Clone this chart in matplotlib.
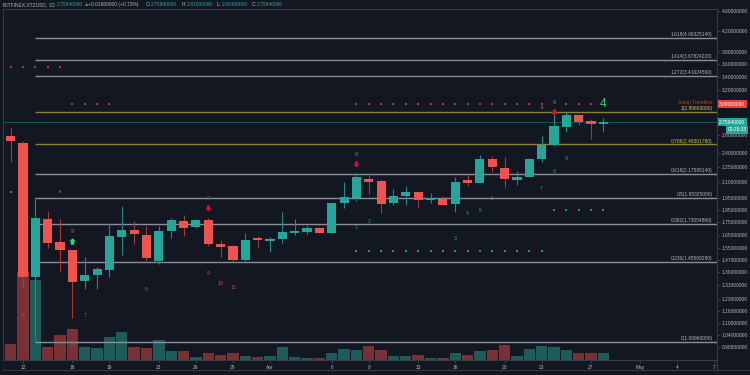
import numpy as np
import pandas as pd
import matplotlib
matplotlib.use('Agg')
import matplotlib.pyplot as plt
import matplotlib.dates as mdates
from matplotlib.path import Path
from matplotlib.lines import Line2D
from matplotlib.ticker import FormatStrFormatter, NullLocator, FixedLocator
from matplotlib.transforms import blended_transform_factory

plt.rcParams['font.family'] = ['Liberation Sans', 'DejaVu Sans']

# daily candles, Mar 11 - Apr 28 2020
dates = pd.date_range('2020-03-11', '2020-04-28', freq='D')
opens = [2.592, 2.513, 1.360, 1.771, 1.592, 1.535, 1.332, 1.370, 1.402, 1.634,
         1.685, 1.644, 1.462, 1.677, 1.753, 1.710, 1.758, 1.578, 1.560, 1.468,
         1.619, 1.604, 1.614, 1.664, 1.672, 1.695, 1.664, 1.904, 1.951, 2.131,
         2.109, 1.909, 1.969, 1.999, 1.933, 1.942, 1.898, 2.115, 2.087, 2.329,
         2.241, 2.118, 2.151, 2.329, 2.487, 2.705, 2.853, 2.776, 2.738]
highs = [2.685, 2.530, 1.953, 1.838, 1.769, 1.537, 1.486, 1.422, 1.734, 1.883,
         1.755, 1.716, 1.716, 1.782, 1.805, 1.770, 1.777, 1.609, 1.573, 1.659,
         1.639, 1.634, 1.827, 1.774, 1.721, 1.706, 1.909, 2.096, 2.184, 2.184,
         2.115, 2.033, 2.061, 2.003, 1.993, 1.971, 2.145, 2.174, 2.379, 2.368,
         2.357, 2.207, 2.340, 2.592, 2.897, 2.890, 2.860, 2.798, 2.811]
lows = [2.304, 1.299, 1.0096, 1.549, 1.398, 1.127, 1.285, 1.284, 1.360, 1.504,
        1.578, 1.457, 1.442, 1.626, 1.641, 1.698, 1.565, 1.491, 1.462, 1.463,
        1.551, 1.523, 1.589, 1.644, 1.655, 1.659, 1.659, 1.866, 1.927, 1.987,
        1.819, 1.886, 1.892, 1.872, 1.904, 1.888, 1.832, 2.061, 2.087, 2.197,
        2.054, 2.073, 2.145, 2.304, 2.480, 2.643, 2.726, 2.553, 2.643]
closes = [2.529, 1.360, 1.777, 1.585, 1.537, 1.329, 1.369, 1.407, 1.634, 1.685,
          1.656, 1.482, 1.677, 1.764, 1.698, 1.764, 1.578, 1.558, 1.466, 1.609,
          1.609, 1.617, 1.667, 1.675, 1.698, 1.664, 1.904, 1.957, 2.145, 2.096,
          1.898, 1.971, 1.999, 1.933, 1.951, 1.892, 2.096, 2.089, 2.329, 2.252,
          2.128, 2.148, 2.329, 2.487, 2.713, 2.853, 2.760, 2.734, 2.7594]
volume = [16, 87.6, 80.3, 13.3, 25, 31, 12.6, 11.6, 23.3, 28.3,
          12.6, 12.3, 19.6, 9, 9, 3.3, 7.3, 5.3, 7, 4.2,
          3.3, 4, 12.7, 3, 2, 1.7, 7, 11.3, 10, 13.7,
          10.3, 4.3, 4.3, 5.3, 1.7, 1.7, 7.3, 5, 9.3, 10,
          15, 4.3, 11.3, 14.3, 13.3, 10.3, 7, 7, 7.3]

fib_names = ['0', '0.236', '0.382', '0.5', '0.618', '0.786', '1', '1.272', '1.414', '1.618']
fib_prices = [1.0096, 1.4550028, 1.7305486, 1.95325, 2.1759514, 2.4930178,
              2.8969, 3.4102456, 3.6782422, 4.0632514]
fib_start = '2020-03-13'

price_ticks = [0.985, 1.04, 1.10, 1.16, 1.23, 1.31, 1.39, 1.47, 1.55, 1.65, 1.75,
               1.85, 1.95, 2.10, 2.25, 2.40, 2.60, 3.20, 3.40, 3.60, 3.80, 4.20, 4.60]
date_ticks = ['2020-03-12', '2020-03-16', '2020-03-19', '2020-03-23', '2020-03-26',
              '2020-03-29', '2020-04-01', '2020-04-06', '2020-04-09', '2020-04-13',
              '2020-04-16', '2020-04-20', '2020-04-23', '2020-04-27', '2020-05-01',
              '2020-05-04', '2020-05-07']
date_labels = ['12', '16', '19', '23', '26', '29', 'Apr', '6', '9', '13', '16', '20',
               '23', '27', 'May', '4', '7']

# TD sequential marks
red_counts = ['4', '6', '7', '8', '9', '10', '11']
red_count_dates = ['2020-03-12', '2020-03-16', '2020-03-17', '2020-03-22', '2020-03-27',
                   '2020-03-28', '2020-03-29']
red_count_prices = [1.141, 0.995, 1.137, 1.285, 1.383, 1.320, 1.296]
green_counts = ['1', '2', '3', '4', '5', '6', '7', '8', '9']
green_count_dates = ['2020-04-08', '2020-04-09', '2020-04-16', '2020-04-17', '2020-04-18',
                     '2020-04-19', '2020-04-23', '2020-04-24', '2020-04-25']
green_count_prices = [1.703, 1.755, 1.622, 1.821, 1.844, 1.942, 2.039, 2.200, 2.335]
sell_arrow_dates = ['2020-03-27', '2020-04-08', '2020-04-24']
sell_arrow_prices = [1.861, 2.279, 2.897]
buy_arrow_dates = ['2020-03-16']
buy_arrow_prices = [1.602]
setup9_dates = ['2020-03-16', '2020-03-27', '2020-04-08', '2020-04-24']
setup9_prices = [1.672, 1.942, 2.383, 3.019]
setup9_colors = ['#e04848', '#c0392b', '#2ebd5f', '#2ebd5f']

red_dot_dates = (list(pd.date_range('2020-03-11', '2020-03-15'))
                 + list(pd.date_range('2020-03-16', '2020-03-19'))
                 + [d for d in pd.date_range('2020-04-08', '2020-04-27')
                    if d != pd.Timestamp('2020-04-24')])
red_dot_prices = [3.549] * 5 + [3.0] * 4 + [3.0] * 19
green_dot_dates = list(pd.date_range('2020-04-08', '2020-04-23')) + list(pd.date_range('2020-04-24', '2020-04-28'))
green_dot_prices = [1.530] * 16 + [1.843] * 5

bg = '#131722'
up_c, dn_c = '#26a69a', '#ef5350'
up_wick, dn_wick = '#1f8a80', '#a8393b'
up_vol, dn_vol = '#1d5c59', '#7a3135'
txt_c = '#b2b5be'
frame_c = '#363a45'
fs = 3.5

fig = plt.figure(figsize=(7.5, 3.75), dpi=100, facecolor=bg)
ax2 = fig.add_axes([3 / 750, 15 / 375, 714 / 750, 351 / 375], facecolor=bg)
ax = fig.add_axes([3 / 750, 15 / 375, 714 / 750, 351 / 375])
ax.patch.set_visible(False)

x = mdates.date2num(dates)
o = np.array(opens); h = np.array(highs); l = np.array(lows); c = np.array(closes)
up = c >= o

# volume
ax2.bar(x, volume, width=0.92, color=np.where(up, up_vol, dn_vol), zorder=1)
ax2.set_ylim(0, 351)
ax2.set_xlim(x[1] - 1.62, x[1] + 56.2)
ax2.axis('off')

# fib levels
x_fib = mdates.date2num(pd.Timestamp(fib_start))
x_end = x[1] + 56.2
tr = blended_transform_factory(ax.transAxes, ax.transData)
for name, p in zip(fib_names, fib_prices):
    yellow = name in ('1', '0.786')
    ax.hlines(p, x_fib, x_end, colors='#8a8530' if yellow else '#8b8e96', lw=1.0, zorder=2)
    ax.annotate(f'{name}({p:.8f})', xy=(0.994, p), xycoords=tr, xytext=(0, 0.6),
                textcoords='offset points', ha='right', va='bottom', fontsize=fs,
                color='#cfc53a' if yellow else txt_c)
ax.text(0.994, 3.02, 'Setup Trendline', transform=tr, ha='right', va='center',
        fontsize=fs, color='#c0392b')

# last price line
ax.axhline(closes[-1], color=up_c, lw=0.5, alpha=0.6, zorder=2)

# candles
ax.vlines(x, l, h, colors=np.where(up, up_wick, dn_wick), lw=0.8, zorder=3)
ax.bar(x, np.abs(c - o) + 0.002, bottom=np.minimum(o, c), width=0.74,
       color=np.where(up, up_c, dn_c), zorder=4)

# dots
ax.scatter(mdates.date2num(red_dot_dates), red_dot_prices, marker='s', s=1.3,
           color='#b0343a', lw=0, zorder=5)
ax.scatter(mdates.date2num(green_dot_dates), green_dot_prices, marker='s', s=1.3,
           color='#1f9e50', lw=0, zorder=5)
ax.scatter(mdates.date2num([pd.Timestamp('2020-03-11')]), [2.008], marker='s', s=1.5,
           color='#1f9e50', lw=0, zorder=5)
ax.text(mdates.date2num(pd.Timestamp('2020-03-15')), 2.008, '8', fontsize=3.2,
        color='#d08a20', ha='center', va='center')
ax.text(mdates.date2num(pd.Timestamp('2020-04-23')), 2.941, '8', fontsize=3.2,
        color='#d08a20', ha='center', va='center')

# arrows
down_arrow = Path([(-0.3, 0.6), (0.3, 0.6), (0.3, 0.0), (0.6, 0.0), (0.0, -0.6),
                   (-0.6, 0.0), (-0.3, 0.0), (-0.3, 0.6)])
up_arrow = Path([(-0.3, -0.6), (0.3, -0.6), (0.3, 0.0), (0.6, 0.0), (0.0, 0.6),
                 (-0.6, 0.0), (-0.3, 0.0), (-0.3, -0.6)])
ax.scatter(mdates.date2num(pd.to_datetime(sell_arrow_dates)), sell_arrow_prices,
           marker=down_arrow, s=22, color='#c8102e', lw=0, zorder=6)
ax.scatter(mdates.date2num(pd.to_datetime(buy_arrow_dates)), buy_arrow_prices,
           marker=up_arrow, s=22, color='#22e07a', lw=0, zorder=6)

for t, d, p in zip(red_counts, red_count_dates, red_count_prices):
    ax.text(mdates.date2num(pd.Timestamp(d)), p, t, fontsize=3.8, color='#d8443f',
            ha='center', va='center', zorder=6)
for t, d, p in zip(green_counts, green_count_dates, green_count_prices):
    ax.text(mdates.date2num(pd.Timestamp(d)), p, t, fontsize=3.8, color='#22a85a',
            ha='center', va='center', zorder=6)
for d, p, col in zip(setup9_dates, setup9_prices, setup9_colors):
    ax.text(mdates.date2num(pd.Timestamp(d)), p, '9', fontsize=3.8, color=col,
            ha='center', va='center', zorder=6)
ax.text(mdates.date2num(pd.Timestamp('2020-04-28')), 3.0, '4', fontsize=8.5,
        color='#2ecc71', ha='center', va='center', zorder=6)

# axes
ax.set_yscale('log')
ax.set_ylim(0.9285, 4.638)
ax.set_xlim(x[1] - 1.62, x[1] + 56.2)
ax.yaxis.tick_right()
ax.yaxis.set_major_locator(FixedLocator(price_ticks))
ax.yaxis.set_major_formatter(FormatStrFormatter('%.8f'))
ax.yaxis.set_minor_locator(NullLocator())
ax.set_xticks(mdates.date2num(pd.to_datetime(date_ticks)))
ax.set_xticklabels(date_labels)
ax.tick_params(axis='y', which='both', labelsize=fs, labelcolor=txt_c, color='#50535e',
               length=2, width=0.5, pad=1.5)
ax.tick_params(axis='x', labelsize=fs, labelcolor=txt_c, color='#50535e',
               length=2, width=0.5, pad=1.5)
for s in ax.spines.values():
    s.set_color(frame_c)
    s.set_linewidth(0.8)

# price label boxes
ax.text(1.003, 3.0, '3.00000000', transform=tr, ha='left', va='center', fontsize=fs,
        color='white', bbox=dict(boxstyle='square,pad=0.3', fc='#e8413b', ec='none'))
ax.text(1.003, closes[-1], '2.75940000', transform=tr, ha='left', va='center', fontsize=fs,
        color='white', bbox=dict(boxstyle='square,pad=0.3', fc=up_c, ec='none'))
ax.text(1.041, 2.664, '09:29:33', transform=tr, ha='right', va='center', fontsize=fs,
        color='white', bbox=dict(boxstyle='square,pad=0.3', fc=up_c, ec='none'))

# frame below the time axis
fig.add_artist(Line2D([3 / 750, 1], [5 / 375, 5 / 375], color=frame_c, lw=0.8))
fig.add_artist(Line2D([717 / 750, 717 / 750], [5 / 375, 15 / 375], color=frame_c, lw=0.8))

# header
hy = 1 - 4.5 / 375
fig.text(3 / 750, hy, 'BITFINEX:XTZUSD, 1D', fontsize=fs, color=txt_c, va='center')
fig.text(57 / 750, hy, '2.75940000', fontsize=fs, color=up_c, va='center')
fig.text(83 / 750, hy, '\u25b2', fontsize=fs, color=up_c, va='center')
fig.text(88 / 750, hy, '+0.01980000 (+0.72%)', fontsize=fs, color=txt_c, va='center')
for lab, val, px in [('O:', '2.75940000', 146), ('H:', '2.81000000', 182),
                     ('L:', '2.65400000', 217), ('C:', '2.75940000', 252)]:
    fig.text(px / 750, hy, lab, fontsize=fs, color=txt_c, va='center')
    fig.text((px + 5) / 750, hy, val, fontsize=fs, color=up_c, va='center')

plt.savefig('out.png', dpi=100, facecolor=bg)
